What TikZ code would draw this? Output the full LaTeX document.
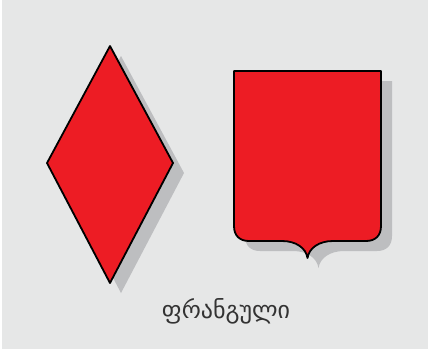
\documentclass[tikz,border=0pt]{standalone}
\usepackage{fontspec}
\newfontfamily\geofont[Script=Georgian]{DejaVu Sans}
\definecolor{bg}{HTML}{E6E7E7}
\definecolor{shred}{HTML}{ED1C24}
\definecolor{shadowgray}{HTML}{BDBEC0}
\definecolor{txt}{HTML}{333333}
\tikzset{
  charge/.style={fill=shred, draw=black, line width=1.8pt, line join=round},
  shade/.style={fill=shadowgray, draw=none},
}
\begin{document}
\begin{tikzpicture}[x=1pt,y=-1pt]
\useasboundingbox (0,0) rectangle (429,349);
\fill[white] (0,0) rectangle (429,349);
\fill[bg] (2,0) rectangle (428,349);
% diamond
\coordinate (dT) at (110,46);
\coordinate (dL) at (47,163);
\coordinate (dR) at (173,163);
\coordinate (dB) at (110,283);
\begin{scope}[shift={(11,10)}]
\fill[shade] (110,46) -- (173,163) -- (110,283) -- (47,163) -- cycle;
\end{scope}
\draw[charge] (dT) -- (dR) -- (dB) -- (dL) -- cycle;
% shield
\def\shieldpath{(234,71) -- (381,71) -- (381,226) .. controls (381,236) and (375,241) .. (366,241) -- (333,241) .. controls (319,241) and (309,248) .. (307.5,258) .. controls (306,248) and (296,241) .. (282,241) -- (249,241) .. controls (240,241) and (234,236) .. (234,226) -- cycle}
\begin{scope}[shift={(11,10)}]
\fill[shade] \shieldpath;
\end{scope}
\draw[charge] \shieldpath;
\node[text=txt, font=\geofont\fontsize{24}{28}\selectfont, inner sep=0pt] (lbl) at (226,311) {ფრანგული};
\end{tikzpicture}
\end{document}
